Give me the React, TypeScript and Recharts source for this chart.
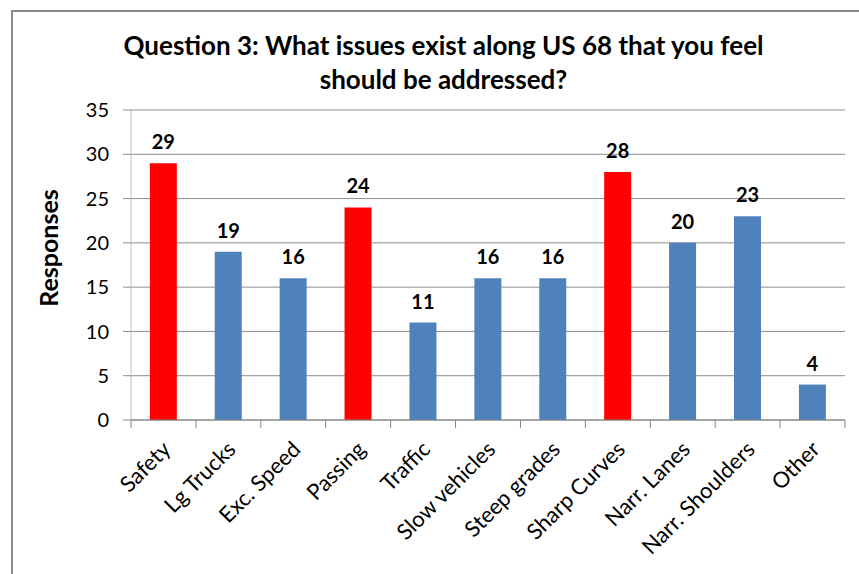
import React from 'react'
import { BarChart, Bar, XAxis, YAxis, CartesianGrid, Cell, LabelList } from 'recharts'

const categories = ['Safety', 'Lg Trucks', 'Exc. Speed', 'Passing', 'Traffic', 'Slow vehicles', 'Steep grades', 'Sharp Curves', 'Narr. Lanes', 'Narr. Shoulders', 'Other']
const responses = [29, 19, 16, 24, 11, 16, 16, 28, 20, 23, 4]
const highlighted = ['Safety', 'Passing', 'Sharp Curves']
const yTicks = [0, 5, 10, 15, 20, 25, 30, 35]

const data = categories.map((name, i) => ({ name, value: responses[i] }))

const FONT = 'Lato, Carlito, Calibri, sans-serif'
const BLUE = '#4F81BD'
const RED = '#FF0000'

const W = 859
const H = 574
const PLOT_LEFT = 131
const PLOT_RIGHT = 14
const bandWidth = (W - PLOT_LEFT - PLOT_RIGHT) / categories.length

// excel style ticks sit between categories, so draw them from the label renderer
const CategoryTick = ({ x, y, payload, index }: any) => {
  const half = bandWidth / 2
  const isLast = index === categories.length - 1
  return (
    <g>
      <line x1={x - half} y1={y - 8} x2={x - half} y2={y} stroke="#868686" />
      {isLast && <line x1={x + half} y1={y - 8} x2={x + half} y2={y} stroke="#868686" />}
      <text
        transform={`translate(${x - 3},${y + 11}) rotate(-45)`}
        textAnchor="end"
        dy="0.75em"
        fontSize={22}
        fontFamily={FONT}
        fill="#000"
      >
        {payload.value}
      </text>
    </g>
  )
}

const AxisTitle = ({ viewBox }: any) => {
  const cx = 48
  const cy = viewBox.y + viewBox.height / 2 - 17
  return (
    <text
      x={cx}
      y={cy}
      transform={`rotate(-90, ${cx}, ${cy})`}
      textAnchor="middle"
      dominantBaseline="central"
      fontSize={25}
      fontWeight={700}
      fontFamily={FONT}
      fill="#000"
    >
      Responses
    </text>
  )
}

export default function App() {
  return (
    <div style={{ position: 'absolute', left: 0, top: 0, width: W, height: H, background: '#fff', overflow: 'hidden' }}>
      <div style={{ position: 'absolute', left: 11, top: 10, width: W, height: H, borderTop: '2px solid #8a8a8a', borderLeft: '2px solid #8a8a8a' }} />
      <div
        style={{
          position: 'absolute',
          left: 16,
          top: 28,
          width: 855,
          textAlign: 'center',
          fontFamily: FONT,
          fontWeight: 700,
          fontSize: 26,
          lineHeight: '34px',
          color: '#000',
        }}
      >
        Question 3: What issues exist along US 68 that you feel
        <br />
        should be addressed?
      </div>
      <BarChart
        width={W}
        height={H}
        data={data}
        margin={{ top: 110, right: PLOT_RIGHT, left: 0, bottom: 0 }}
        barCategoryGap="29%"
        style={{ position: 'absolute', left: 0, top: 0 }}
      >
        <CartesianGrid vertical={false} stroke="#8c8c8c" />
        <XAxis
          dataKey="name"
          interval={0}
          height={154}
          axisLine={{ stroke: '#868686' }}
          tickLine={false}
          tick={<CategoryTick />}
        />
        <YAxis
          width={PLOT_LEFT}
          domain={[0, 35]}
          ticks={yTicks}
          interval={0}
          axisLine={{ stroke: '#bdbdbd' }}
          tickLine={{ stroke: '#8c8c8c' }}
          tickSize={8}
          tick={{ fontSize: 20, fontFamily: FONT, fill: '#000', dx: -12 }}
          label={<AxisTitle />}
        />
        <Bar dataKey="value" isAnimationActive={false}>
          {data.map((d) => (
            <Cell key={d.name} fill={highlighted.includes(d.name) ? RED : BLUE} />
          ))}
          <LabelList
            dataKey="value"
            position="top"
            offset={14}
            style={{ fontSize: 20, fontWeight: 700, fontFamily: FONT, fill: '#000' }}
          />
        </Bar>
      </BarChart>
    </div>
  )
}
